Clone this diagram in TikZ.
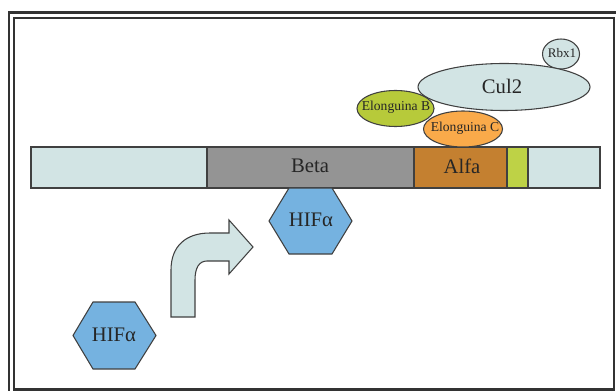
\documentclass[tikz,border=0pt]{standalone}
\usepackage{fontspec}
\setmainfont{Liberation Serif}
\usepackage{tikz}
\usetikzlibrary{positioning}

\definecolor{paleCyan}{RGB}{210,228,228}
\definecolor{betaGray}{RGB}{148,148,148}
\definecolor{alfaBrown}{RGB}{196,128,48}
\definecolor{barGreen}{RGB}{190,210,70}
\definecolor{eloBGreen}{RGB}{183,202,58}
\definecolor{eloCOrange}{RGB}{250,170,74}
\definecolor{hifBlue}{RGB}{117,178,224}
\definecolor{edgeGray}{RGB}{64,64,64}

\tikzset{
  part/.style={draw=edgeGray, line width=0.8},
  bigtxt/.style={font=\fontsize{15.5}{18}\selectfont, text=black!85},
  smalltxt/.style={font=\fontsize{10.2}{12}\selectfont, text=black!85},
}

\begin{document}
\begin{tikzpicture}[x=0.75pt,y=0.75pt,yscale=-1,xscale=1]
        \useasboundingbox (0,0) rectangle (616,391);
        \clip (0,0) rectangle (616,391);

        %Shape: Frame outer
        \draw [edgeGray!80!black, line width=2.2] (9,12.5) -- (640,12.5) -- (640,410) -- (9,410) -- cycle ;
        %Shape: Frame inner
        \draw [edgeGray!80!black, line width=1.8] (14,18) -- (614,18) -- (614,389.5) -- (14,389.5) -- cycle ;

        %Shape: Rectangle [bar left]
        \draw [part, fill=paleCyan] (31,147) -- (207,147) -- (207,188) -- (31,188) -- cycle ;
        %Shape: Rectangle [Beta]
        \draw [part, fill=betaGray] (207,147) -- (414,147) -- (414,188) -- (207,188) -- cycle ;
        %Shape: Rectangle [Alfa]
        \draw [part, fill=alfaBrown] (414,147) -- (507,147) -- (507,188) -- (414,188) -- cycle ;
        %Shape: Rectangle [green]
        \draw [part, fill=barGreen] (507,147) -- (528,147) -- (528,188) -- (507,188) -- cycle ;
        %Shape: Rectangle [bar right]
        \draw [part, fill=paleCyan] (528,147) -- (600,147) -- (600,188) -- (528,188) -- cycle ;

        %Shape: Ellipse [Rbx1]
        \draw [part, fill=paleCyan] (561,54) ellipse (18.5 and 15) ;
        %Shape: Ellipse [Cul2]
        \draw [part, fill=paleCyan] (504,87) ellipse (86 and 23.5) ;
        %Shape: Ellipse [Elonguina B]
        \draw [part, fill=eloBGreen] (395.5,108.5) ellipse (38.5 and 18) ;
        %Shape: Ellipse [Elonguina C]
        \draw [part, fill=eloCOrange] (463,129) ellipse (39.5 and 18) ;

        %Shape: Hexagon [upper]
        \draw [part, fill=hifBlue] (269,221) -- (289,188) -- (332,188) -- (352,221) -- (332,254) -- (289,254) -- cycle ;
        %Shape: Hexagon [lower]
        \draw [part, fill=hifBlue] (73,335.5) -- (93,302) -- (135,302) -- (156,335.5) -- (135,369) -- (93,369) -- cycle ;

        %Shape: Bent Arrow
        \draw [part, fill=paleCyan] (171,317) -- (171,270) .. controls (171,246) and (186,233) .. (210,233)
              -- (229,233) -- (229,220) -- (253,247) -- (229,274) -- (229,261) -- (207,261)
              .. controls (199,261) and (195,268) .. (195,280) -- (195,317) -- cycle ;

        % Text Node
        \draw (310,166) node [bigtxt] (beta) {Beta};
        % Text Node
        \draw (462,166) node [bigtxt] (alfa) {Alfa};
        % Text Node
        \draw (502,86) node [bigtxt] (cul) {Cul2};
        % Text Node
        \draw (396,107.5) node [smalltxt] (elob) {Elonguina B};
        % Text Node
        \draw (465,128.5) node [smalltxt] (eloc) {Elonguina C};
        % Text Node
        \draw (562,53.5) node [smalltxt, font=\fontsize{9.8}{12}\selectfont] (rbx) {Rbx1};
        % Text Node
        \draw (311,220) node [bigtxt] (hifup) {HIFα};
        % Text Node
        \draw (114,334.5) node [bigtxt] (hiflow) {HIFα};
\end{tikzpicture}
\end{document}
